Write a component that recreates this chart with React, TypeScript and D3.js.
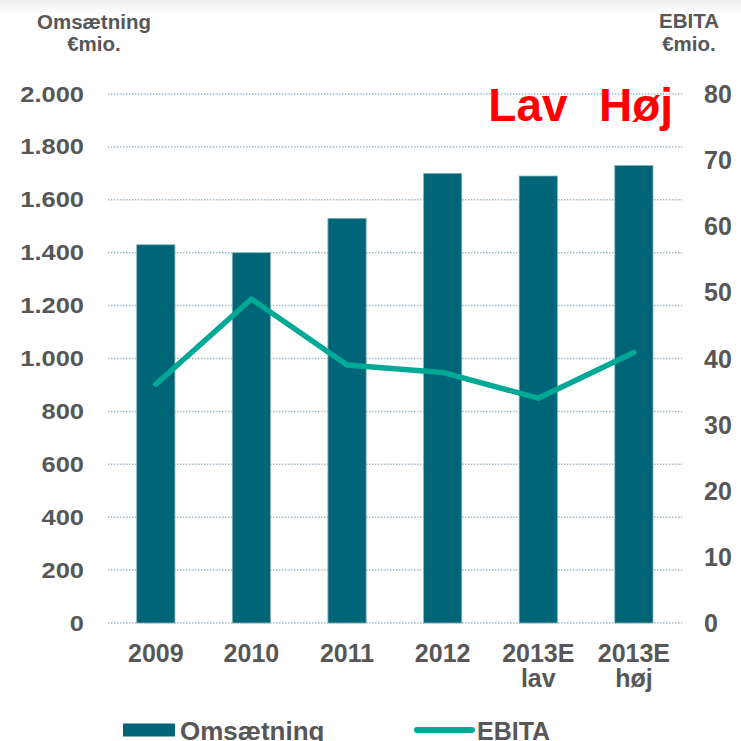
import React from "react";
import * as d3 from "d3";

const categories: string[][] = [["2009"], ["2010"], ["2011"], ["2012"], ["2013E", "lav"], ["2013E", "høj"]];
const revenue: number[] = [1430, 1400, 1530, 1700, 1690, 1730];
const ebita: number[] = [36.1, 49.0, 39.0, 37.9, 34.0, 40.9];
const leftTicks: number[] = [0, 200, 400, 600, 800, 1000, 1200, 1400, 1600, 1800, 2000];
const rightTicks: number[] = [0, 10, 20, 30, 40, 50, 60, 70, 80];
const leftTitle: string[] = ["Omsætning", "€mio."];
const rightTitle: string[] = ["EBITA", "€mio."];
const legendLabels: string[] = ["Omsætning", "EBITA"];

const W = 741;
const H = 741;
const FONT = "'Liberation Sans', Arial, Helvetica, sans-serif";
const TEXT = "#575757";
const BAR = "#006677";
const LINE = "#00a896";
const GRID = "#a3b9c6";

const fmt = (v: number) => d3.format(",")(v).replace(/,/g, ".");

export default function App() {
  const keys = categories.map((c) => c.join(" "));
  const x = d3.scaleBand<string>().domain(keys).range([108, 681.7]).paddingInner(0.6).paddingOuter(0.3);
  const yL = d3.scaleLinear().domain([0, 2000]).range([623, 94]);
  const yR = d3.scaleLinear().domain([0, 80]).range([623, 94]);
  const cx = (i: number) => (x(keys[i]) as number) + x.bandwidth() / 2;
  const line = d3
    .line<number>()
    .x((_, i) => cx(i))
    .y((d) => yR(d));

  return (
    <svg width={W} height={H} style={{ position: "absolute", left: 0, top: 0, background: "#fff" }} fontFamily={FONT}>
      <defs>
        <linearGradient id="topfade" x1="0" y1="0" x2="0" y2="1">
          <stop offset="0" stopColor="#ececec" />
          <stop offset="1" stopColor="#ffffff" />
        </linearGradient>
      </defs>
      <rect x={0} y={0} width={W} height={14} fill="url(#topfade)" />

      {/* gridlines */}
      {leftTicks.map((t) => (
        <line key={"g" + t} x1={108} x2={682} y1={yL(t)} y2={yL(t)} stroke={GRID} strokeWidth={1.5} strokeDasharray="1.5 1.5" />
      ))}

      {/* bars */}
      {revenue.map((v, i) => (
        <rect
          key={"b" + i}
          x={x(keys[i])}
          y={yL(v)}
          width={x.bandwidth()}
          height={yL(0) - yL(v)}
          fill={BAR}
          stroke="#8cb3bd"
          strokeWidth={0.8}
        />
      ))}

      {/* line */}
      <path d={line(ebita) || ""} fill="none" stroke={LINE} strokeWidth={5.5} strokeLinecap="round" strokeLinejoin="round" />

      {/* left ticks */}
      {leftTicks.map((t) => (
        <text
          key={"l" + t}
          transform={`translate(84,${yL(t) + 7.5}) scale(1,0.9)`}
          textAnchor="end"
          fontSize={25.5}
          fontWeight="bold"
          fill={TEXT}
        >
          {fmt(t)}
        </text>
      ))}
      {/* right ticks */}
      {rightTicks.map((t) => (
        <text key={"r" + t} x={704} y={yR(t) + 9} textAnchor="start" fontSize={25} fontWeight="bold" fill={TEXT}>
          {t}
        </text>
      ))}

      {/* x labels */}
      {categories.map((c, i) =>
        c.map((s, j) => (
          <text
            key={"x" + i + j}
            x={cx(i)}
            y={661.5 + j * 25.5}
            textAnchor="middle"
            fontSize={25}
            fontWeight="bold"
            fill={TEXT}
          >
            {s}
          </text>
        ))
      )}

      {/* axis titles */}
      {leftTitle.map((s, j) => (
        <text key={"lt" + j} x={94} y={29 + j * 21.5} textAnchor="middle" fontSize={20.5} fontWeight="bold" fill={TEXT}>
          {s}
        </text>
      ))}
      {rightTitle.map((s, j) => (
        <text key={"rt" + j} x={689} y={28 + j * 23} textAnchor="middle" fontSize={20.5} fontWeight="bold" fill={TEXT}>
          {s}
        </text>
      ))}

      {/* red annotation */}
      <text x={528} y={120.5} textAnchor="middle" fontSize={46} fontWeight="bold" fill="#ff0000">
        Lav
      </text>
      <text x={636} y={120.5} textAnchor="middle" fontSize={46} fontWeight="bold" fill="#ff0000">
        Høj
      </text>

      {/* legend */}
      <rect x={123} y={723.5} width={52} height={13} fill={BAR} />
      <text x={180} y={740} fontSize={26} fontWeight="bold" fill={TEXT}>
        {legendLabels[0]}
      </text>
      <line x1={417} x2={472} y1={730} y2={730} stroke={LINE} strokeWidth={6} strokeLinecap="round" />
      <text x={477} y={740} fontSize={25} fontWeight="bold" fill={TEXT}>
        {legendLabels[1]}
      </text>
    </svg>
  );
}
